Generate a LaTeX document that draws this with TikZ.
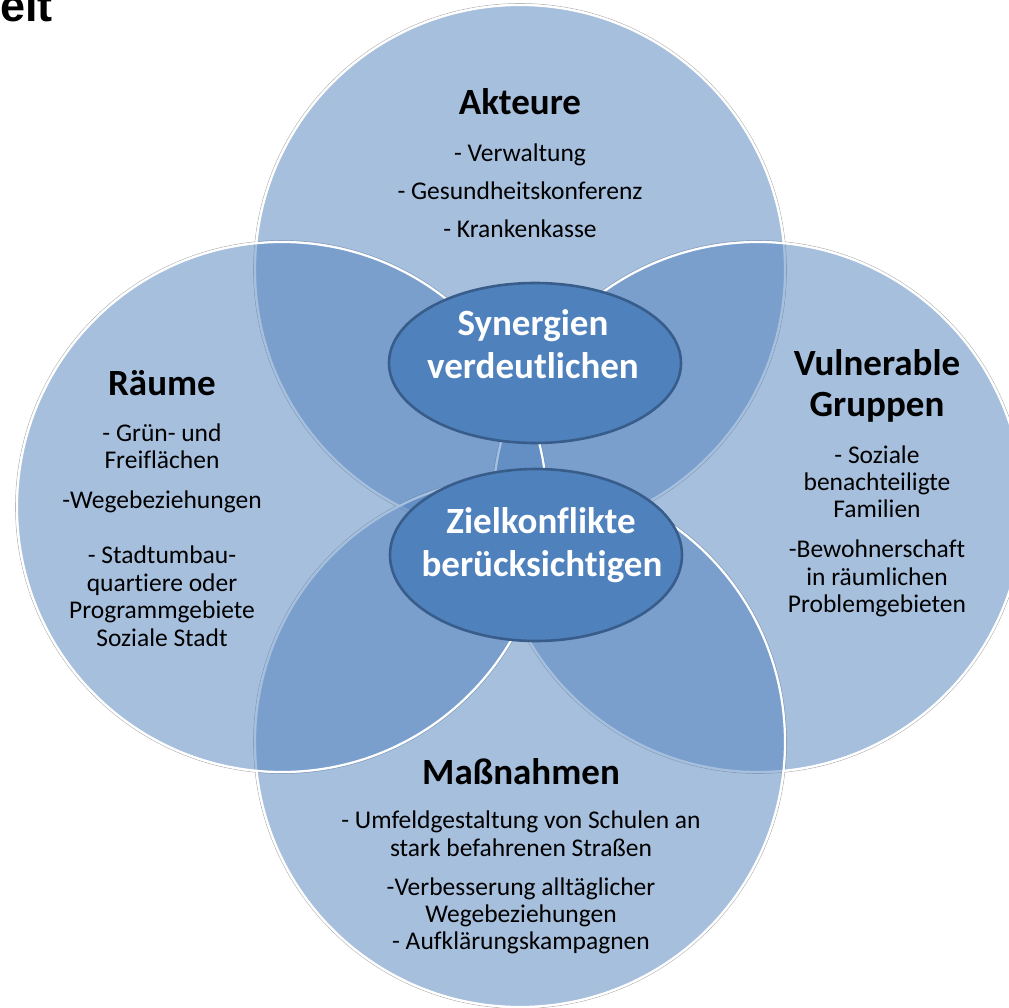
\documentclass[tikz,border=0pt]{standalone}
\usepackage{fontspec}
\setmainfont{Carlito}[Ligatures={NoCommon,NoRequired}]
\newfontfamily\titlefont{Liberation Sans}
\usetikzlibrary{shapes.geometric}
\definecolor{vennblue}{HTML}{4F81BD}
\definecolor{coreblue}{HTML}{4F81BD}
\definecolor{coreedge}{HTML}{385D8A}
\newcommand\headfont{\fontsize{37}{44}\selectfont\bfseries}
\newcommand\itemfont{\fontsize{25.5}{30}\selectfont}
\begin{document}
\begin{tikzpicture}[x=1pt,y=-1pt,
  halo/.style={draw=black, draw opacity=0.3, line width=0.6pt},
  venn/.style={circle, minimum size=530pt, inner sep=0pt, fill=vennblue, fill opacity=0.5,
               draw=white, draw opacity=1, line width=2.2pt},
  core/.style={ellipse, inner sep=0pt, fill=coreblue, draw=coreedge, line width=2.6pt},
  head/.style={anchor=base, font=\headfont, inner sep=0pt},
  corehead/.style={head, text=white},
  item/.style={anchor=base, font=\itemfont, inner sep=0pt},
]
\clip (0,0) rectangle (1009,1008);
\fill[white] (0,0) rectangle (1009,1008);

% page title fragment
\node[anchor=base east, font=\titlefont\fontsize{45}{48}\selectfont\bfseries, inner sep=0pt]
  (title) at (53,22) {eit};

% faint outer rims
\foreach \cx/\cy in {520/270, 758/507, 520/742, 282/507}
  \draw[halo] (\cx,\cy) circle[radius=266.5];

% the four overlapping circles, drawn clockwise from the top
\node[venn] (cakt) at (520,270) {};
\node[venn] (cgrp) at (758,507) {};
\node[venn] (cmas) at (520,742) {};
\node[venn] (craum) at (282,507) {};

% central ellipses
\node[core, minimum width=292pt, minimum height=160pt] (syn) at (535,363) {};
\node[core, minimum width=292pt, minimum height=172pt] (ziel) at (536,555) {};

\node[corehead] (syn1) at (533,335) {Synergien};
\node[corehead] (syn2) at (533,378) {verdeutlichen};
\node[corehead] (ziel1) at (541,533) {Zielkonflikte};
\node[corehead] (ziel2) at (542,576) {berücksichtigen};

% Akteure
\node[head] (akt) at (520,115) {Akteure};
\node[item] (akt1) at (520,162) {- Verwaltung};
\node[item] (akt2) at (520,200) {- Gesundheitskonferenz};
\node[item] (akt3) at (520,238) {- Krankenkasse};

% Vulnerable Gruppen
\node[head] (grp) at (877,375) {Vulnerable};
\node[head] (grpb) at (877,416) {Gruppen};
\node[item] (grp1) at (877,463) {- Soziale};
\node[item] (grp2) at (877,490) {benachteiligte};
\node[item] (grp3) at (877,517) {Familien};
\node[item] (grp4) at (877,557) {-Bewohnerschaft};
\node[item] (grp5) at (877,585) {in räumlichen};
\node[item] (grp6) at (877,612) {Problemgebieten};

% Räume
\node[head] (raum) at (162,395) {Räume};
\node[item] (raum1) at (162,441) {- Grün- und};
\node[item] (raum2) at (162,468) {Freiflächen};
\node[item] (raum3) at (162,508) {-Wegebeziehungen};
\node[item] (raum4) at (162,563) {- Stadtumbau-};
\node[item] (raum5) at (162,591) {quartiere oder};
\node[item] (raum6) at (162,618) {Programmgebiete};
\node[item] (raum7) at (162,646) {Soziale Stadt};

% Maßnahmen
\node[head] (mas) at (521,784) {Maßnahmen};
\node[item] (mas1) at (521,828) {- Umfeldgestaltung von Schulen an};
\node[item] (mas2) at (521,856) {stark befahrenen Straßen};
\node[item] (mas3) at (521,895) {-Verbesserung alltäglicher};
\node[item] (mas4) at (521,922) {Wegebeziehungen};
\node[item] (mas5) at (521,949) {- Aufklärungskampagnen};
\end{tikzpicture}
\end{document}
